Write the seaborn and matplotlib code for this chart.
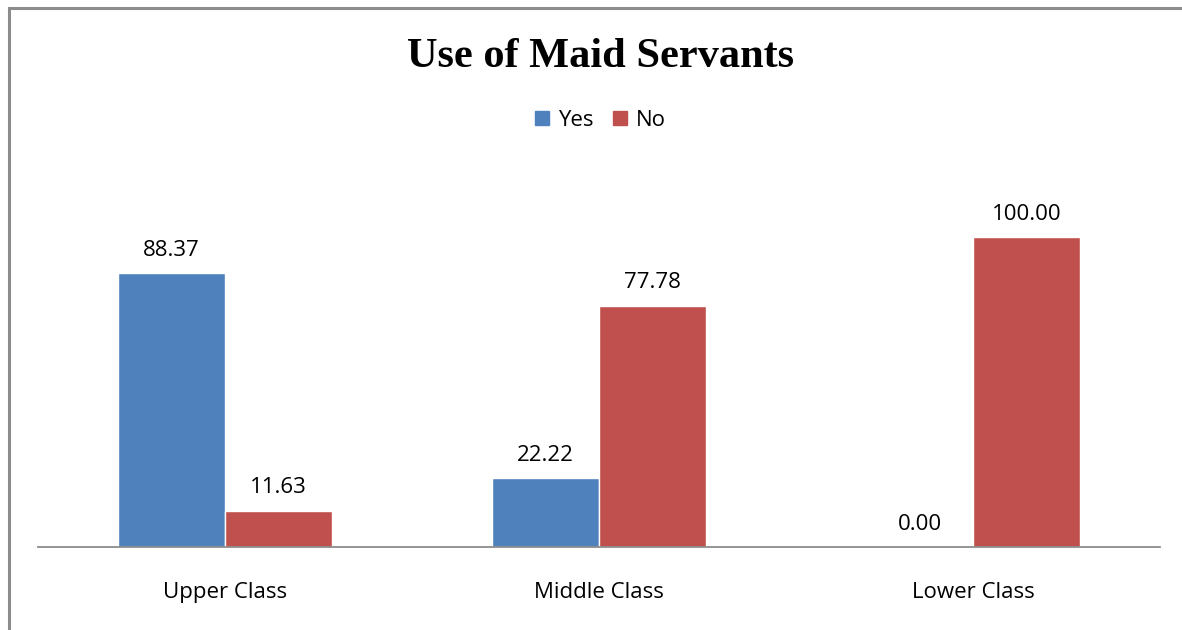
import matplotlib
matplotlib.use("Agg")
import matplotlib.pyplot as plt
import seaborn as sns
import pandas as pd
from matplotlib.patches import Rectangle

categories = ["Upper Class", "Middle Class", "Lower Class"]
series_names = ["Yes", "No"]
yes_values = [88.37, 22.22, 0.00]
no_values = [11.63, 77.78, 100.00]
colors = {"Yes": "#4F81BD", "No": "#C0504D"}

df = pd.DataFrame({
    "Class": categories * 2,
    "Response": ["Yes"] * len(categories) + ["No"] * len(categories),
    "Percent": yes_values + no_values,
})

sns.set_theme(style="white")
plt.rcParams["font.family"] = ["Open Sans", "DejaVu Sans"]
plt.rcParams["text.color"] = "black"

FS = 16

fig = plt.figure(figsize=(11.82, 6.30), dpi=100)
ax = fig.add_axes([38 / 1182, (630 - 547) / 630, (1160 - 38) / 1182, (547 - 175) / 630])

sns.barplot(data=df, x="Class", y="Percent", hue="Response", hue_order=series_names,
            order=categories, palette=colors, width=0.572, gap=0, ax=ax,
            legend=False, saturation=1, errorbar=None)

ax.set_ylim(0, 120)
ax.set_xlim(-0.5, len(categories) - 0.5)
ax.set_xlabel("")
ax.set_ylabel("")
ax.set_yticks([])
for side in ["left", "right", "top"]:
    ax.spines[side].set_visible(False)
ax.spines["bottom"].set_color("#8c8c8c")
ax.spines["bottom"].set_linewidth(1.3)
ax.tick_params(axis="x", length=0, pad=25, labelsize=FS, labelcolor="black")

for cont in ax.containers:
    ax.bar_label(cont, fmt="%.2f", padding=9, fontsize=FS, color="black")

# title and legend
fig.text(0.508, 1 - 57 / 630, "Use of Maid Servants", ha="center", va="center",
         fontsize=30.5, fontweight="bold", color="black",
         family=["Liberation Serif", "DejaVu Serif"])
handles = [Rectangle((0, 0), 1, 1, color=colors[s]) for s in series_names]
fig.legend(handles, series_names, loc="center", bbox_to_anchor=(0.508, 1 - 120 / 630),
           ncol=2, frameon=False, fontsize=FS, handlelength=0.6, handleheight=0.6,
           handletextpad=0.4, columnspacing=0.9)

# outer chart border
border = Rectangle((8.5 / 1182, -0.05), 1.2, 1 - 8.5 / 630 + 0.05, transform=fig.transFigure,
                   fill=False, edgecolor="#8c8c8c", linewidth=2.2)
fig.patches.append(border)

fig.savefig("out.png", dpi=100, facecolor="white")
